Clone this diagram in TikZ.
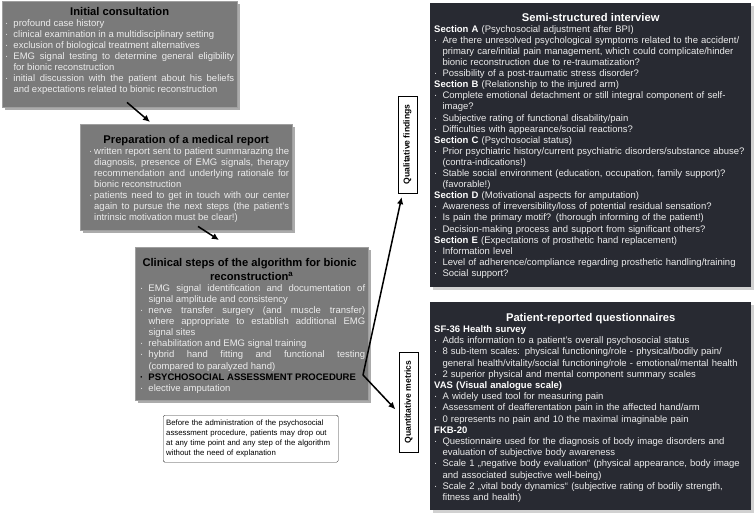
\documentclass[tikz,border=0pt]{standalone}
\usepackage{fontspec}
\setmainfont{Liberation Sans}
\usetikzlibrary{arrows.meta,shadows}

\definecolor{boxgray}{RGB}{122,122,122}
\definecolor{boxdark}{RGB}{40,42,50}
\definecolor{txtlight}{RGB}{236,236,236}

% bullet line with hanging indent
\newlength{\itmw}
\setlength{\itmw}{8.3pt}
\newcommand{\itm}{\par\hangindent=\itmw\hangafter=1\noindent\makebox[\itmw][l]{\textperiodcentered}}
\newcommand{\sect}[2]{\par\noindent{\color{white}\bfseries #1} #2}
\newcommand{\boxtitle}[1]{{\centering\fontsize{11.2}{14}\selectfont\bfseries\color{black}#1\par}}
\newcommand{\darktitle}[1]{{\centering\fontsize{11.2}{12}\selectfont\bfseries\color{white}#1\par}}

\tikzset{
  greybox/.style={draw=gray!75, fill=boxgray, anchor=north west, inner xsep=3pt, inner ysep=2pt,
    text=txtlight, align=justify, font=\fontsize{9.5}{11.1}\selectfont,
    drop shadow={shadow xshift=2.5pt, shadow yshift=-2.5pt, fill=black!60, opacity=.55}},
  darkbox/.style={fill=boxdark, anchor=north west, inner xsep=4pt, inner ysep=2pt,
    text=txtlight, align=left, font=\fontsize{9.5}{11.1}\selectfont,
    drop shadow={shadow xshift=2.5pt, shadow yshift=-2.5pt, fill=black!30, opacity=.6}},
  notebox/.style={draw=black!80, fill=white, rounded corners=1.5pt, anchor=north west,
    inner xsep=3pt, inner ysep=2pt, align=left, font=\fontsize{7.8}{10.3}\selectfont},
  tagbox/.style={draw, fill=white, rotate=90, inner sep=2pt, minimum height=19pt,
    font=\fontsize{8.6}{9}\selectfont\bfseries},
  arr/.style={line width=1.5pt, -{Latex[length=7pt,width=6.5pt]}},
}

\begin{document}
\begin{tikzpicture}[x=1pt,y=-1pt]
\useasboundingbox (0,0) rectangle (754,516);

% left column: algorithm
\node[greybox, text width=229pt, text height=12pt, text depth=90pt] (consult) at (2,1) {%
  \boxtitle{Initial consultation}\tolerance=10000\relax
  \itm profound case history
  \itm clinical examination in a multidisciplinary setting
  \itm exclusion of biological treatment alternatives
  \itm EMG signal testing to determine general eligibility\linebreak for bionic reconstruction
  \itm initial discussion with the patient about his beliefs\linebreak and expectations related to bionic reconstruction\par};

\node[greybox, text width=206pt, text height=17pt, text depth=85pt] (report) at (80,124) {%
  \boxtitle{Preparation of a medical report}\tolerance=10000\relax
  \leftskip=6pt\relax\itmw=5pt\relax
  \itm written report sent to patient summarazing the\linebreak diagnosis, presence of EMG signals, therapy\linebreak recommendation and underlying rationale for\linebreak bionic reconstruction
  \itm patients need to get in touch with our center\linebreak again to pursue the next steps (the patient's\linebreak intrinsic motivation must be clear!)\par};

\node[greybox, text width=227pt, text height=17pt, text depth=132pt] (steps) at (135,247) {%
  \boxtitle{Clinical steps of the algorithm for bionic\newline reconstruction\textsuperscript{a}}\tolerance=10000\relax
  \leftskip=2pt\relax
  \itm EMG signal identification and documentation of\linebreak signal amplitude and consistency
  \itm nerve transfer surgery (and muscle transfer)\linebreak where appropriate to establish additional EMG\linebreak signal sites
  \itm rehabilitation and EMG signal training
  \itm hybrid hand fitting and functional testing\linebreak (compared to paralyzed hand)
  {\color{black}\bfseries\itm PSYCHOSOCIAL ASSESSMENT PROCEDURE\par}
  \itm elective amputation\par};

\node[notebox, text width=169pt, text height=7.8pt, text depth=35.2pt] (note) at (163,415) {%
  Before the administration of the psychosocial\newline assessment procedure, patients may drop out\newline at any time point and any step of the algorithm\newline without the need of explanation};

\draw[arr] ([shift={(125,-5)}]consult.south west) -- ([shift={(70,-2)}]report.north west);
\draw[arr] ([shift={(118,-4)}]report.south west) -- ([shift={(84,-7)}]steps.north west);

% right column: assessment
\node[darkbox, text width=313pt, text height=16pt, text depth=264pt] (interview) at (430,3) {%
  \darktitle{Semi-structured interview}
  \sect{Section A}{(Psychosocial adjustment after BPI)}
  \itm Are there unresolved psychological symptoms related to the accident/\newline primary care/initial pain management, which could complicate/hinder\newline bionic reconstruction due to re-traumatization?
  \itm Possibility of a post-traumatic stress disorder?
  \sect{Section B}{(Relationship to the injured arm)}
  \itm Complete emotional detachment or still integral component of self-\newline image?
  \itm Subjective rating of functional disability/pain
  \itm Difficulties with appearance/social reactions?
  \sect{Section C}{(Psychosocial status)}
  \itm Prior psychiatric history/current psychiatric disorders/substance abuse?\newline (contra-indications!)
  \itm Stable social environment (education, occupation, family support)?\newline (favorable!)
  \sect{Section D}{(Motivational aspects for amputation)}
  \itm Awareness of irreversibility/loss of potential residual sensation?
  \itm Is pain the primary motif? (thorough informing of the patient!)
  \itm Decision-making process and support from significant others?
  \sect{Section E}{(Expectations of prosthetic hand replacement)}
  \itm Information level
  \itm Level of adherence/compliance regarding prosthetic handling/training
  \itm Social support?\par};

\node[darkbox, text width=313pt, text height=17pt, text depth=187pt, font=\fontsize{9.5}{11.2}\selectfont] (survey) at (430,302) {%
  \darktitle{Patient-reported questionnaires}
  \sect{SF-36 Health survey}{}
  \itm Adds information to a patient's overall psychosocial status
  \itm 8 sub-item scales: physical functioning/role - physical/bodily pain/\newline general health/vitality/social functioning/role - emotional/mental health
  \itm 2 superior physical and mental component summary scales
  \sect{VAS (Visual analogue scale)}{}
  \itm A widely used tool for measuring pain
  \itm Assessment of deafferentation pain in the affected hand/arm
  \itm 0 represents no pain and 10 the maximal imaginable pain
  \sect{FKB-20}{}
  \itm Questionnaire used for the diagnosis of body image disorders and\newline evaluation of subjective body awareness
  \itm Scale 1 „negative body evaluation“ (physical appearance, body image\newline and associated subjective well-being)
  \itm Scale 2 „vital body dynamics“ (subjective rating of bodily strength,\newline fitness and health)\par};

\node[tagbox, minimum width=97pt] (qual) at (407.5,144.5) {Qualitative findings};
\node[tagbox, minimum width=100pt] (quant) at (408.5,402) {Quantitative metrics};

\coordinate (psy) at (363,375);
\draw[arr, shorten >=4pt] (psy) -- ([xshift=-5pt]qual.west);
\draw[arr, shorten >=5pt] (psy) -- ([yshift=-11pt]quant.north);
\end{tikzpicture}
\end{document}
